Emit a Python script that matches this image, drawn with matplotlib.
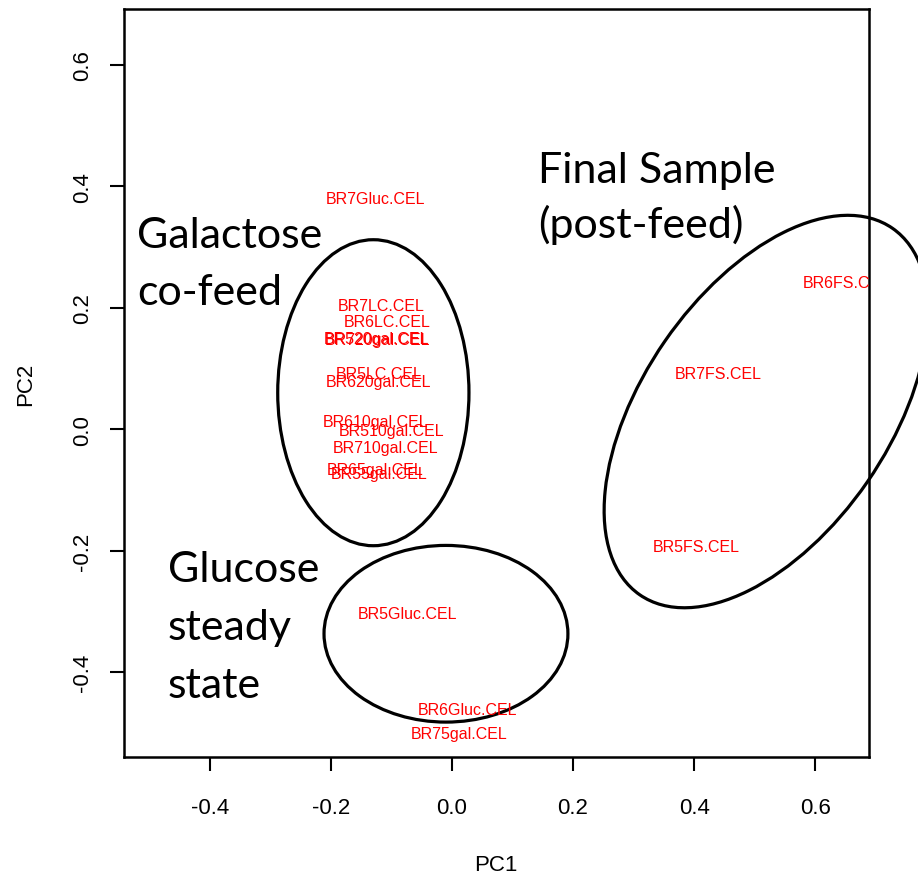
import matplotlib.pyplot as plt
from matplotlib.patches import Ellipse

# PCA scores
samples = ['BR7Gluc.CEL', 'BR7LC.CEL', 'BR6LC.CEL', 'BR520gal.CEL', 'BR720gal.CEL',
           'BR5LC.CEL', 'BR620gal.CEL', 'BR610gal.CEL', 'BR510gal.CEL', 'BR710gal.CEL',
           'BR65gal.CEL', 'BR55gal.CEL', 'BR5Gluc.CEL', 'BR6Gluc.CEL', 'BR75gal.CEL',
           'BR6FS.CEL', 'BR7FS.CEL', 'BR5FS.CEL']
pc1 = [-0.127, -0.117, -0.107, -0.124, -0.123,
       -0.120, -0.122, -0.127, -0.100, -0.109,
       -0.127, -0.121, -0.073, 0.025, 0.012,
       0.651, 0.440, 0.403]
pc2 = [0.380, 0.203, 0.178, 0.149, 0.147,
       0.091, 0.079, 0.013, -0.003, -0.030,
       -0.066, -0.073, -0.304, -0.461, -0.501,
       0.241, 0.091, -0.193]

xticks = [-0.4, -0.2, 0.0, 0.2, 0.4, 0.6]
yticks = [-0.4, -0.2, 0.0, 0.2, 0.4, 0.6]

# group ellipses: centre x, centre y, width, height, angle
groups = {
    'galactose': (-0.130, 0.060, 0.316, 0.504, 0),
    'glucose': (-0.010, -0.337, 0.403, 0.291, 0),
    'final': (0.519, 0.029, 0.734, 0.407, 55.3),
}

W, H = 918, 879
fig = plt.figure(figsize=(W / 100, H / 100), dpi=100)
ax = fig.add_axes([124 / W, 1 - 758 / H, (869 - 124) / W, (758 - 10) / H])

def px(x, y):
    # pixel position -> figure fraction
    return x / W, 1 - y / H

for name, x, y in zip(samples, pc1, pc2):
    ax.text(x, y, name, color='red', fontsize=11.5, family='Liberation Sans',
            ha='center', va='center', clip_on=True)

for key, (cx, cy, w, h, ang) in groups.items():
    e = Ellipse((cx, cy), w, h, angle=ang, fill=False, edgecolor='black', lw=2.3,
                clip_on=(key != 'final'))
    ax.add_patch(e)

ax.set_xlim(-0.542, 0.689)
ax.set_ylim(-0.540, 0.692)
ax.set_xticks(xticks)
ax.set_yticks(yticks)
ax.set_xticklabels([f'{v:.1f}' for v in xticks], family='Liberation Sans', fontsize=16)
ax.set_yticklabels([f'{v:.1f}' for v in yticks], family='Liberation Sans', fontsize=16,
                   rotation=90, va='center')
ax.tick_params(axis='x', length=10, width=1.5, pad=19)
ax.tick_params(axis='y', length=10, width=1.5, pad=12)
for s in ax.spines.values():
    s.set_linewidth(1.8)

fig.text(*px(496, 866), 'PC1', ha='center', va='center', fontsize=16, family='Liberation Sans')
fig.text(*px(26, 384), 'PC2', ha='center', va='center', fontsize=16, family='Liberation Sans',
         rotation=90)

# group names added on top of the plot
notes = [
    ('Galactose', 137, 248), ('co-feed', 137, 305),
    ('Final Sample', 538, 183), ('(post-feed)', 538, 238),
    ('Glucose', 168, 582), ('steady', 168, 640), ('state', 168, 698),
]
for txt, x, y in notes:
    fig.text(*px(x, y), txt, fontsize=31, family='Lato', ha='left', va='baseline')

fig.savefig('out.png', dpi=100)
